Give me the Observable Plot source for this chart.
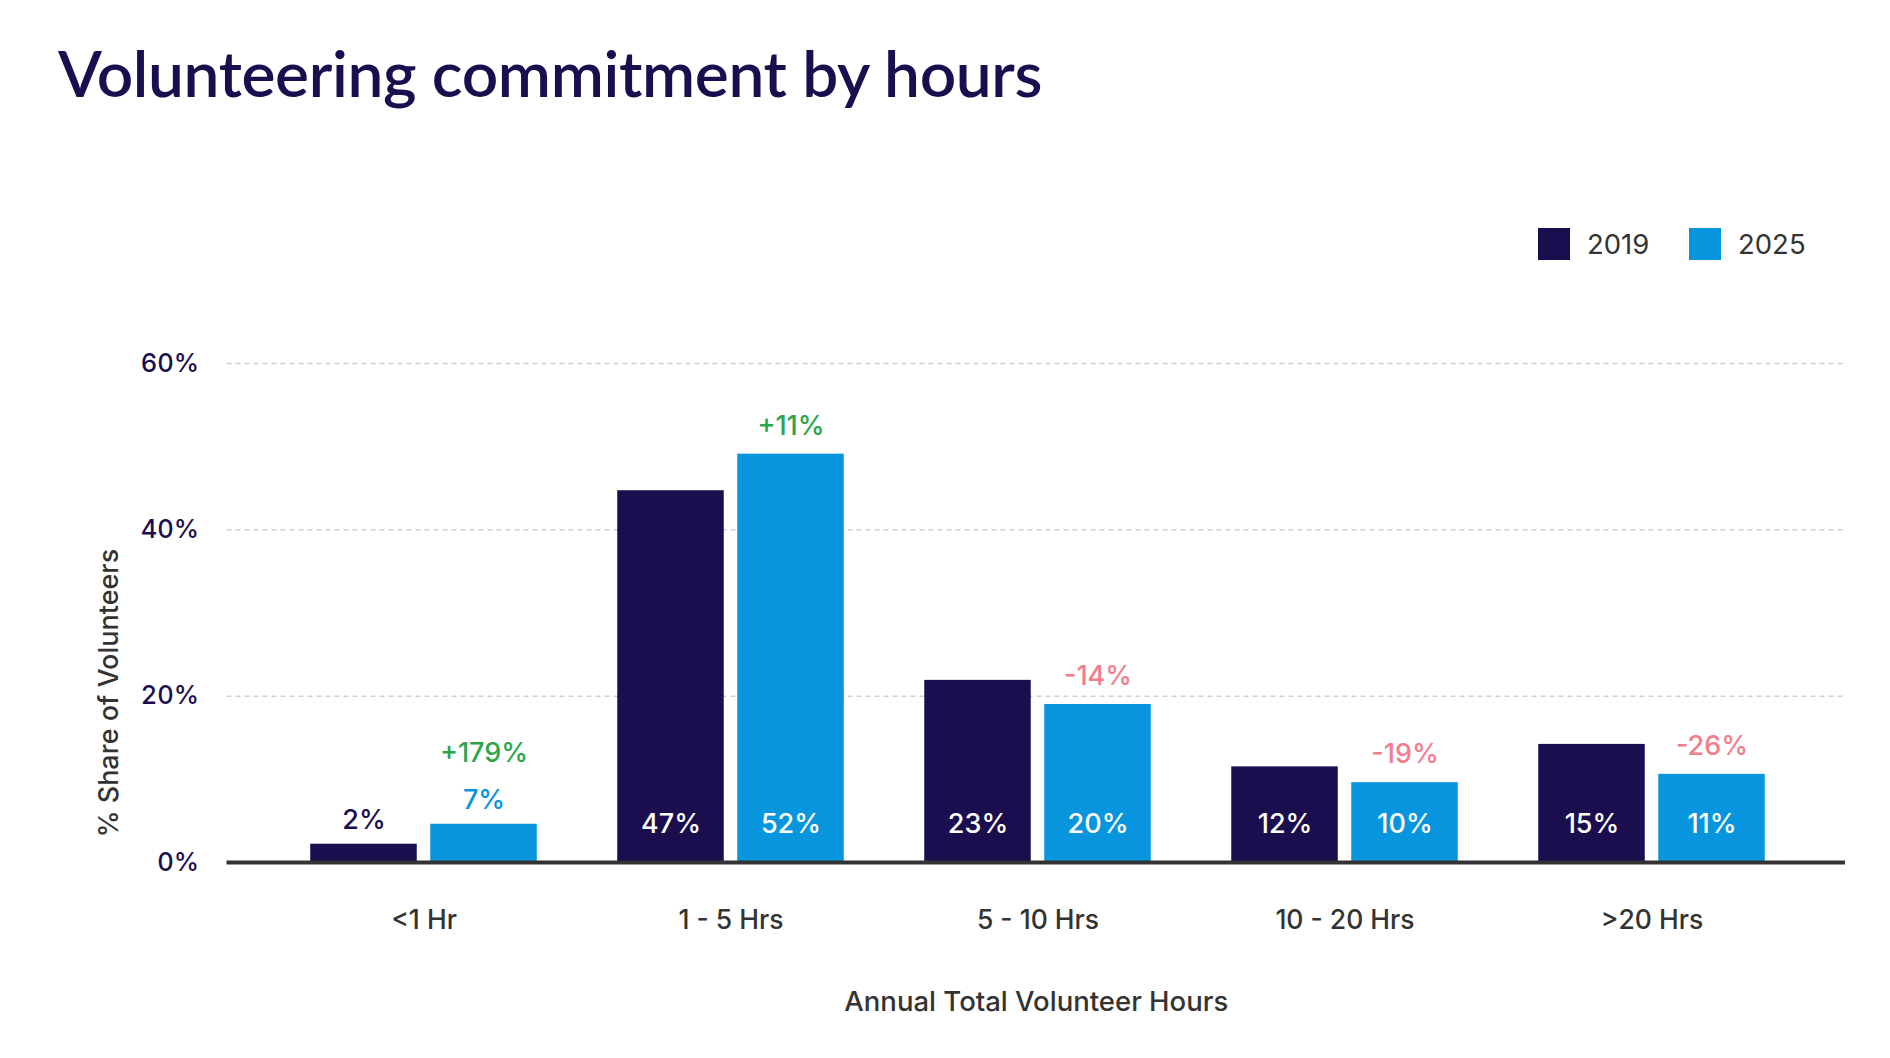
<!DOCTYPE html>
<html>
<head>
<meta charset="utf-8">
<script src="https://cdn.jsdelivr.net/npm/d3@7"></script>
<script src="https://cdn.jsdelivr.net/npm/@observablehq/plot@0.6"></script>
<style>
  html, body { margin: 0; padding: 0; background: #fff; }
  #wrap { position: relative; width: 1890px; height: 1058px; overflow: hidden; font-family: Inter, "Noto Sans", sans-serif; }
  #title { position: absolute; left: 58px; top: 34px; margin: 0; font-family: Lato, sans-serif; font-size: 64px; font-weight: 600; color: #1a0e4f; letter-spacing: -0.35px; white-space: nowrap; }
  .lg { position: absolute; top: 228px; height: 32px; display: flex; align-items: center; font-size: 27.5px; color: #333; }
  .sw { width: 32px; height: 32px; margin-right: 17px; }
  #chart { position: absolute; left: 0; top: 280px; }
</style>
</head>
<body>
<div id="wrap">
  <h1 id="title">Volunteering commitment by hours</h1>
  <div id="legend"></div>
  <div id="chart"></div>
</div>
<script>
const categories = ["<1 Hr", "1 - 5 Hrs", "5 - 10 Hrs", "10 - 20 Hrs", ">20 Hrs"];
const years = ["2019", "2025"];
const share2019 = [2.2, 44.7, 21.9, 11.5, 14.2];
const share2025 = [4.6, 49.1, 19.0, 9.6, 10.6];
const label2019 = ["2%", "47%", "23%", "12%", "15%"];
const label2025 = ["7%", "52%", "20%", "10%", "11%"];
const changeLabels = ["+179%", "+11%", "-14%", "-19%", "-26%"];
const changeUp = [true, true, false, false, false];
const yTicks = [0, 20, 40, 60];
const xTitle = "Annual Total Volunteer Hours";
const yTitle = "% Share of Volunteers";

const NAVY = "#1a0e4f", BLUE = "#0796dd", GREEN = "#2ba64b", PINK = "#f47d8d", GREY = "#333";
const colors = [NAVY, BLUE];
const FONT = "Inter, 'Noto Sans', sans-serif";

// legend
const legend = document.getElementById("legend");
const legX = [1538, 1689];
years.forEach((y, i) => {
  const d = document.createElement("div");
  d.className = "lg";
  d.style.left = legX[i] + "px";
  d.innerHTML = `<div class="sw" style="background:${colors[i]}"></div><span>${y}</span>`;
  legend.appendChild(d);
});

const rows = categories.map((c, i) => ({
  cat: c, v19: share2019[i], v25: share2025[i],
  l19: label2019[i], l25: label2025[i], ch: changeLabels[i], up: changeUp[i]
}));
const small = 6;
const OFF = 60, BW = 107, STEP = 307.5, INS = (STEP - BW) / 2;

const chart = Plot.plot({
  width: 1890,
  height: 778,
  marginTop: 83,
  marginBottom: 196,
  marginLeft: 226.5,
  marginRight: 45,
  style: { fontFamily: FONT, background: "transparent" },
  x: { domain: categories, padding: 0, insetLeft: 41.75, insetRight: 39.25 },
  y: { domain: [0, 60] },
  marks: [
    Plot.ruleY(yTicks.filter(d => d > 0), { stroke: "#cfcfcf", strokeWidth: 1.5, strokeDasharray: "5,4" }),
    Plot.barY(rows, { x: "cat", y: "v19", fill: NAVY, insetLeft: INS, insetRight: INS, dx: -OFF }),
    Plot.barY(rows, { x: "cat", y: "v25", fill: BLUE, insetLeft: INS, insetRight: INS, dx: OFF }),
    Plot.ruleY([0], { stroke: GREY, strokeWidth: 4 }),
    Plot.axisY({ ticks: yTicks, tickFormat: d => d + "%", tickSize: 0, tickPadding: 28, fontSize: 25.5, fontWeight: 500, color: NAVY, label: null }),
    Plot.axisX({ tickSize: 0, tickPadding: 48, fontSize: 26.5, fontWeight: 500, color: GREY, label: null }),
    // value labels inside bars
    Plot.text(rows.filter(d => d.v19 >= small), { x: "cat", y: 0, text: "l19", dx: -OFF, dy: -38, fill: "white", fontSize: 27, fontWeight: 500 }),
    Plot.text(rows.filter(d => d.v25 >= small), { x: "cat", y: 0, text: "l25", dx: OFF, dy: -38, fill: "white", fontSize: 27, fontWeight: 500 }),
    // value labels above small bars
    Plot.text(rows.filter(d => d.v19 < small), { x: "cat", y: "v19", text: "l19", dx: -OFF, dy: -24, fill: NAVY, fontSize: 27, fontWeight: 500 }),
    Plot.text(rows.filter(d => d.v25 < small), { x: "cat", y: "v25", text: "l25", dx: OFF, dy: -24, fill: BLUE, fontSize: 27, fontWeight: 500 }),
    // change labels
    Plot.text(rows.filter(d => d.v25 >= small), { x: "cat", y: "v25", text: "ch", dx: OFF, dy: -28, fill: d => d.up ? GREEN : PINK, fontSize: 27, fontWeight: 500 }),
    Plot.text(rows.filter(d => d.v25 < small), { x: "cat", y: "v25", text: "ch", dx: OFF, dy: -71, fill: d => d.up ? GREEN : PINK, fontSize: 27, fontWeight: 500 }),
    // axis titles
    Plot.text([xTitle], { frameAnchor: "bottom", dy: 148, text: d => d, fill: GREY, fontSize: 27.5, fontWeight: 500 }),
    Plot.text([yTitle], { frameAnchor: "left", textAnchor: "middle", dx: -118, dy: 80, rotate: -90, text: d => d, fill: GREY, fontSize: 27, fontWeight: 500 })
  ]
});
document.getElementById("chart").appendChild(chart);
</script>
</body>
</html>
